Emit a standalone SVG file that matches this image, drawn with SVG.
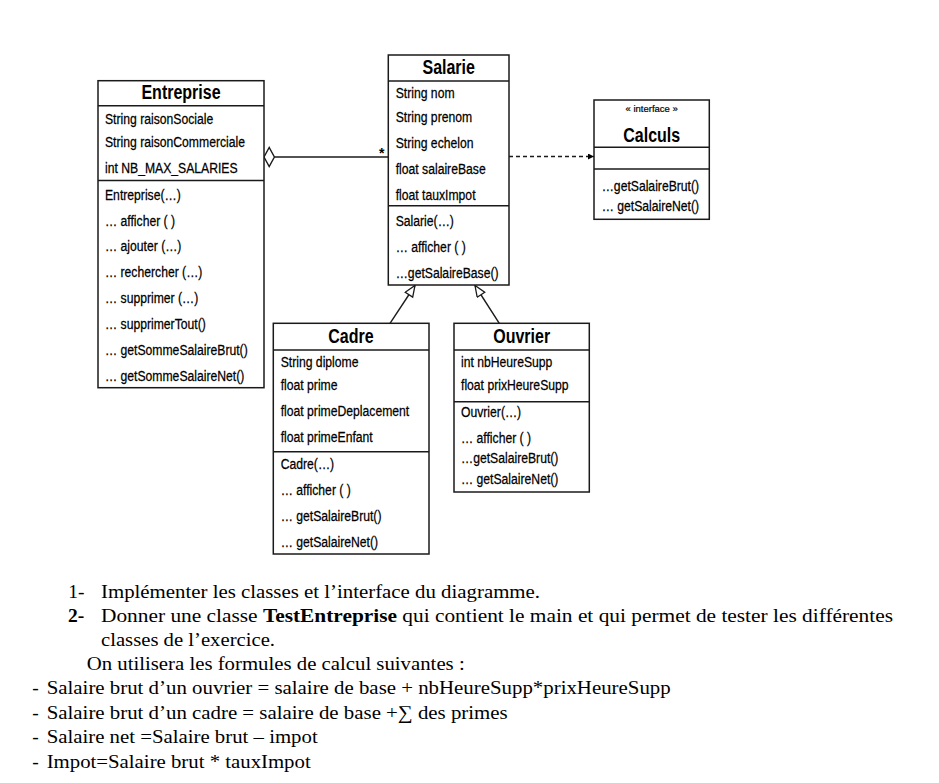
<svg xmlns="http://www.w3.org/2000/svg" width="939" height="783" viewBox="0 0 939 783">
<style>
.box{fill:#fff;stroke:#1a1a1a;stroke-width:1.5}
.sep{stroke:#1a1a1a;stroke-width:1.5}
.t{font-family:"Liberation Sans",Arial,sans-serif;font-size:14px;fill:#000;stroke:#000;stroke-width:0.25}
.h{font-family:"Liberation Sans",Arial,sans-serif;font-size:20px;font-weight:bold;fill:#000;text-anchor:middle}
.st{font-family:"Liberation Sans",Arial,sans-serif;font-size:9.5px;fill:#000;stroke:#000;stroke-width:0.2;text-anchor:middle}
.ln{stroke:#1a1a1a;stroke-width:1.4;fill:none}
.p{font-family:"Liberation Serif","Times New Roman",serif;font-size:19.5px;fill:#000}
</style>
<defs>
<marker id="gen" markerUnits="userSpaceOnUse" markerWidth="14" markerHeight="12" refX="12" refY="5" orient="auto">
<path d="M1,0.5 L12,5 L1,9.5 Z" fill="#fff" stroke="#1a1a1a" stroke-width="1.3"/>
</marker>
<marker id="dep" markerUnits="userSpaceOnUse" markerWidth="8" markerHeight="8" refX="6" refY="3" orient="auto">
<path d="M0,0 L6,3 L0,6 Z" fill="#000"/>
</marker>
</defs>

<g id="connectors">
<line class="ln" x1="274.4" y1="157" x2="388.3" y2="157"/>
<polygon points="264,157 269.2,147.5 274.4,157 269.2,166.5" fill="#fff" stroke="#1a1a1a" stroke-width="1.4"/>
<text x="381.7" y="157.5" font-family="Liberation Sans,Arial,sans-serif" font-size="14" font-weight="bold" text-anchor="middle">*</text>
<path class="ln" d="M509,156.5 L594,156.5" stroke-dasharray="4 3" marker-end="url(#dep)"/>
<path class="ln" d="M390,323.3 L415,285.5" marker-end="url(#gen)"/>
<path class="ln" d="M499.3,323.3 L475,285.5" marker-end="url(#gen)"/>
</g>

<g id="Entreprise">
<rect class="box" x="98" y="80.7" width="166" height="307"/>
<line class="sep" x1="98" y1="105.7" x2="264" y2="105.7"/>
<line class="sep" x1="98" y1="180.5" x2="264" y2="180.5"/>
<text class="h" transform="translate(181 99) scale(0.8 1)">Entreprise</text>
<text class="t" transform="translate(105 124) scale(0.87 1)">String raisonSociale</text>
<text class="t" transform="translate(105 147) scale(0.87 1)">String raisonCommerciale</text>
<text class="t" transform="translate(105 172.7) scale(0.87 1)">int NB_MAX_SALARIES</text>
<text class="t" transform="translate(105 200) scale(0.87 1)">Entreprise(…)</text>
<text class="t" transform="translate(105 225.5) scale(0.87 1)">… afficher ( )</text>
<text class="t" transform="translate(105 251) scale(0.87 1)">… ajouter (…)</text>
<text class="t" transform="translate(105 277) scale(0.87 1)">… rechercher (…)</text>
<text class="t" transform="translate(105 303) scale(0.87 1)">… supprimer (…)</text>
<text class="t" transform="translate(105 329) scale(0.87 1)">… supprimerTout()</text>
<text class="t" transform="translate(105 355) scale(0.87 1)">… getSommeSalaireBrut()</text>
<text class="t" transform="translate(105 380.5) scale(0.87 1)">… getSommeSalaireNet()</text>
</g>

<g id="Salarie">
<rect class="box" x="388.3" y="55" width="120.7" height="230"/>
<line class="sep" x1="388.3" y1="81" x2="509" y2="81"/>
<line class="sep" x1="388.3" y1="205.7" x2="509" y2="205.7"/>
<text class="h" transform="translate(448.7 73.5) scale(0.8 1)">Salarie</text>
<text class="t" transform="translate(395.7 98.3) scale(0.87 1)">String nom</text>
<text class="t" transform="translate(395.7 122) scale(0.87 1)">String prenom</text>
<text class="t" transform="translate(395.7 148) scale(0.87 1)">String echelon</text>
<text class="t" transform="translate(395.7 173.7) scale(0.87 1)">float salaireBase</text>
<text class="t" transform="translate(395.7 199.5) scale(0.87 1)">float tauxImpot</text>
<text class="t" transform="translate(395.7 225.5) scale(0.87 1)">Salarie(…)</text>
<text class="t" transform="translate(395.7 251.5) scale(0.87 1)">… afficher ( )</text>
<text class="t" transform="translate(395.7 277.5) scale(0.87 1)">…getSalaireBase()</text>
</g>

<g id="Calculs">
<rect class="box" x="594" y="100" width="115.3" height="119.3"/>
<line class="sep" x1="594" y1="147.3" x2="709.3" y2="147.3"/>
<line class="sep" x1="594" y1="169" x2="709.3" y2="169"/>
<text class="st" x="651.7" y="112">« interface »</text>
<text class="h" transform="translate(651.7 141.7) scale(0.8 1)">Calculs</text>
<text class="t" transform="translate(601.7 190.5) scale(0.87 1)">…getSalaireBrut()</text>
<text class="t" transform="translate(601.7 210.8) scale(0.87 1)">… getSalaireNet()</text>
</g>

<g id="Cadre">
<rect class="box" x="273.3" y="323.3" width="155.7" height="230.7"/>
<line class="sep" x1="273.3" y1="350" x2="429" y2="350"/>
<line class="sep" x1="273.3" y1="451.7" x2="429" y2="451.7"/>
<text class="h" transform="translate(351 342.7) scale(0.8 1)">Cadre</text>
<text class="t" transform="translate(280.7 366.5) scale(0.87 1)">String diplome</text>
<text class="t" transform="translate(280.7 389.5) scale(0.87 1)">float prime</text>
<text class="t" transform="translate(280.7 416.3) scale(0.87 1)">float primeDeplacement</text>
<text class="t" transform="translate(280.7 442.3) scale(0.87 1)">float primeEnfant</text>
<text class="t" transform="translate(280.7 468.7) scale(0.87 1)">Cadre(…)</text>
<text class="t" transform="translate(280.7 495) scale(0.87 1)">… afficher ( )</text>
<text class="t" transform="translate(280.7 520.8) scale(0.87 1)">… getSalaireBrut()</text>
<text class="t" transform="translate(280.7 546.8) scale(0.87 1)">… getSalaireNet()</text>
</g>

<g id="Ouvrier">
<rect class="box" x="454" y="323.3" width="135.3" height="168.7"/>
<line class="sep" x1="454" y1="350" x2="589.3" y2="350"/>
<line class="sep" x1="454" y1="401.7" x2="589.3" y2="401.7"/>
<text class="h" transform="translate(521.7 342.7) scale(0.8 1)">Ouvrier</text>
<text class="t" transform="translate(461 366.5) scale(0.87 1)">int nbHeureSupp</text>
<text class="t" transform="translate(461 389.5) scale(0.87 1)">float prixHeureSupp</text>
<text class="t" transform="translate(461 416.7) scale(0.87 1)">Ouvrier(…)</text>
<text class="t" transform="translate(461 442.5) scale(0.87 1)">… afficher ( )</text>
<text class="t" transform="translate(461 463.3) scale(0.87 1)">…getSalaireBrut()</text>
<text class="t" transform="translate(461 483.5) scale(0.87 1)">… getSalaireNet()</text>
</g>

<g id="consignes">
<text class="p" x="68.3" y="597.5">1-</text>
<text class="p" x="101" y="597.5" textLength="439" lengthAdjust="spacingAndGlyphs">Implémenter les classes et l’interface du diagramme.</text>
<text class="p" x="68" y="621.7" font-weight="bold">2-</text>
<text class="p" x="101" y="621.7" textLength="792" lengthAdjust="spacingAndGlyphs">Donner une classe <tspan font-weight="bold">TestEntreprise</tspan> qui contient le main et qui permet de tester les différentes</text>
<text class="p" x="101" y="646.3" textLength="174" lengthAdjust="spacingAndGlyphs">classes de l’exercice.</text>
<text class="p" x="86.7" y="670" textLength="378" lengthAdjust="spacingAndGlyphs">On utilisera les formules de calcul suivantes :</text>
<text class="p" x="32.3" y="694">-</text>
<text class="p" x="46.7" y="694" textLength="624" lengthAdjust="spacingAndGlyphs">Salaire brut d’un ouvrier = salaire de base + nbHeureSupp*prixHeureSupp</text>
<text class="p" x="32.3" y="718.5">-</text>
<text class="p" x="46.7" y="718.5" textLength="461" lengthAdjust="spacingAndGlyphs">Salaire brut d’un cadre = salaire de base +∑ des primes</text>
<text class="p" x="32.3" y="743.2">-</text>
<text class="p" x="46.7" y="743.2" textLength="271" lengthAdjust="spacingAndGlyphs">Salaire net =Salaire brut – impot</text>
<text class="p" x="32.3" y="767.7">-</text>
<text class="p" x="46.7" y="767.7" textLength="264" lengthAdjust="spacingAndGlyphs">Impot=Salaire brut * tauxImpot</text>
</g>
</svg>
